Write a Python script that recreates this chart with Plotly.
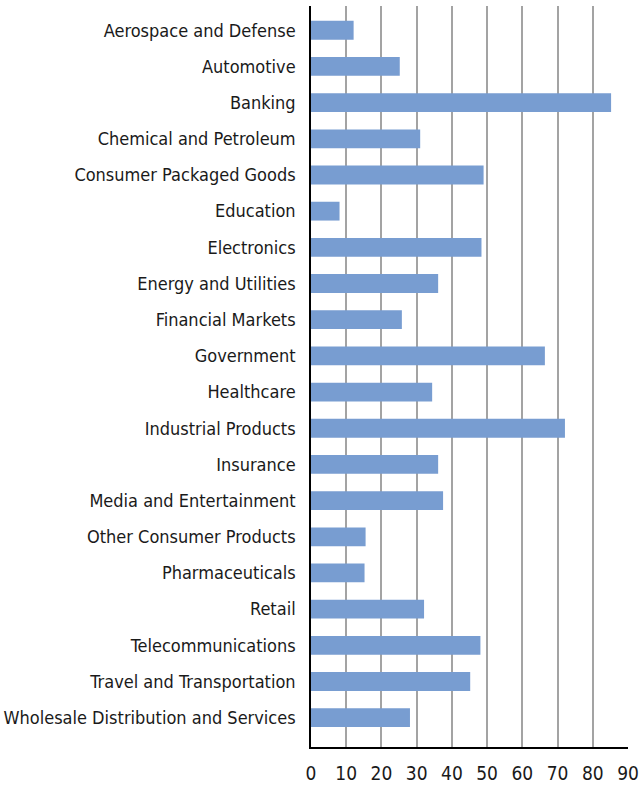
import plotly.graph_objects as go

categories = [
    "Aerospace and Defense", "Automotive", "Banking", "Chemical and Petroleum",
    "Consumer Packaged Goods", "Education", "Electronics", "Energy and Utilities",
    "Financial Markets", "Government", "Healthcare", "Industrial Products",
    "Insurance", "Media and Entertainment", "Other Consumer Products",
    "Pharmaceuticals", "Retail", "Telecommunications", "Travel and Transportation",
    "Wholesale Distribution and Services",
]
values = [12.1, 25.2, 85.2, 31.0, 49.0, 8.1, 48.4, 36.1, 25.8, 66.4,
          34.4, 72.1, 36.1, 37.5, 15.5, 15.2, 32.1, 48.1, 45.2, 28.1]
x_ticks = [0, 10, 20, 30, 40, 50, 60, 70, 80, 90]

FONT = "DejaVu Sans Condensed, Liberation Sans, sans-serif"

fig = go.Figure(go.Bar(
    x=values, y=categories, orientation="h",
    marker=dict(color="#789dd1", line=dict(width=0)),
    width=0.52,
))

fig.update_layout(
    width=641, height=790,
    margin=dict(l=311, r=13, t=6, b=43, autoexpand=False),
    plot_bgcolor="white", paper_bgcolor="white",
    showlegend=False,
    font=dict(family=FONT, size=18, color="#1a1a1a"),
    xaxis=dict(
        range=[0, 90], tickvals=x_ticks, ticktext=[str(v) for v in x_ticks],
        showgrid=True, gridcolor="#a3a3a3", gridwidth=1.5,
        zeroline=False, showline=True, linecolor="black", linewidth=1.5,
        ticks="outside", ticklen=8, tickcolor="rgba(0,0,0,0)",
        tickfont=dict(family=FONT, size=19, color="#1a1a1a"),
        automargin=False,
    ),
    yaxis=dict(
        categoryorder="array", categoryarray=categories,
        range=[19.81, -0.67],
        showgrid=False, zeroline=False, showline=True, linecolor="black", linewidth=1.5,
        ticks="outside", ticklen=10, tickcolor="rgba(0,0,0,0)",
        tickfont=dict(family=FONT, size=18, color="#1a1a1a"),
        automargin=False,
    ),
    bargap=0.48,
)

fig.write_html("out.html", config={"displayModeBar": False},
               post_script="document.body.style.margin='0';")
